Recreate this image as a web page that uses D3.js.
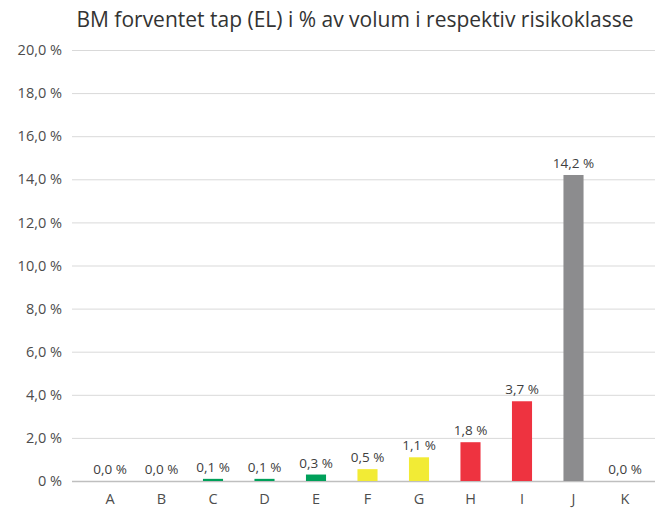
<!DOCTYPE html>
<html>
<head>
<meta charset="utf-8">
<script src="https://cdn.jsdelivr.net/npm/d3@7"></script>
<style>
  body { margin: 0; background: #fff; }
  text { font-family: "Open Sans", sans-serif; }
</style>
</head>
<body>
<svg></svg>
<script>
// data
const categories = ["A", "B", "C", "D", "E", "F", "G", "H", "I", "J", "K"];
const values = [0.0, 0.0, 0.1, 0.1, 0.3, 0.55, 1.1, 1.8, 3.7, 14.2, 0.0];
const labels = ["0,0 %", "0,0 %", "0,1 %", "0,1 %", "0,3 %", "0,5 %", "1,1 %", "1,8 %", "3,7 %", "14,2 %", "0,0 %"];
const barColors = ["#00a05a", "#00a05a", "#00a05a", "#00a05a", "#00a05a", "#f2eb35", "#f2eb35", "#ee3340", "#ee3340", "#8c8c8e", "#8c8c8e"];
const yTicks = [0, 2, 4, 6, 8, 10, 12, 14, 16, 18, 20];

const w = 659;
const h = 508;

const chart = d3.select("svg")
                .attr("width", w)
                .attr("height", h);

const x = d3.scaleBand()
            .domain(categories)
            .range([84.25, 650.75])
            .paddingInner(0.61)
            .paddingOuter(0.305);

const y = d3.scaleLinear()
            .domain([0, 20])
            .range([481, 50]);

const fmt = (d) => d === 0 ? "0 %" : d.toFixed(1).replace(".", ",") + " %";

//Gridlines + y axis
const yAxis = chart.append("g")
                   .attr("transform", "translate(72,0)")
                   .call(d3.axisLeft(y).tickValues(yTicks).tickSize(-583).tickFormat(fmt));
yAxis.select(".domain").remove();
yAxis.selectAll(".tick line")
     .attr("stroke", (d) => d === 0 ? "#bfbfbf" : "#d9d9d9")
     .attr("stroke-width", (d) => d === 0 ? 1.5 : 1);
yAxis.selectAll(".tick text")
     .attr("x", -10)
     .attr("fill", "#4d4d4d")
     .style("font-size", "14.5px")
     .style("font-family", "'Open Sans', sans-serif");

//Bars
chart.append("g")
     .selectAll("rect")
     .data(categories)
     .enter()
     .append("rect")
     .attr("x", (d) => x(d))
     .attr("width", x.bandwidth())
     .attr("y", (d, i) => y(values[i]))
     .attr("height", (d, i) => y(0) - y(values[i]))
     .attr("fill", (d, i) => barColors[i]);

//Value labels
chart.append("g")
     .selectAll("text")
     .data(categories)
     .enter()
     .append("text")
     .attr("x", (d) => x(d) + x.bandwidth() / 2)
     .attr("y", (d, i) => y(values[i]) - 7)
     .attr("text-anchor", "middle")
     .attr("fill", "#404040")
     .style("font-size", "13.5px")
     .text((d, i) => labels[i]);

//X axis labels
const xAxis = chart.append("g")
                   .attr("transform", "translate(0,481)")
                   .call(d3.axisBottom(x).tickSize(0));
xAxis.select(".domain").remove();
xAxis.selectAll(".tick text")
     .attr("y", 13)
     .attr("fill", "#4d4d4d")
     .style("font-size", "14.5px")
     .style("font-family", "'Open Sans', sans-serif");

//Title
chart.append("text")
     .attr("x", 355)
     .attr("y", 27)
     .attr("text-anchor", "middle")
     .attr("fill", "#333333")
     .style("font-size", "21px")
     .text("BM forventet tap (EL) i % av volum i respektiv risikoklasse");
</script>
</body>
</html>
